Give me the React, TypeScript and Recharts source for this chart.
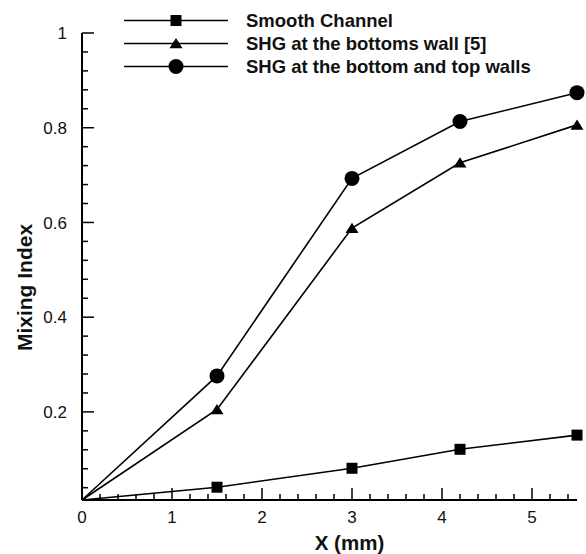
import React from 'react';
import { LineChart, Line, XAxis, YAxis, Legend } from 'recharts';

// ---- data ----
const xPositions = [0, 1.5, 3, 4.2, 5.5];
const smoothChannel = [0.014, 0.041, 0.081, 0.121, 0.151];
const shgBottomWall = [0.014, 0.205, 0.588, 0.726, 0.806];
const shgBottomTopWalls = [0.014, 0.276, 0.693, 0.813, 0.874];
const seriesNames = [
  'Smooth Channel',
  'SHG at the bottoms wall [5]',
  'SHG at the bottom and top walls',
];

// ---- ticks ----
const xTicks = [0, 0.2, 0.4, 0.6, 0.8, 1, 1.2, 1.4, 1.6, 1.8, 2, 2.2, 2.4, 2.6, 2.8, 3, 3.2, 3.4, 3.6, 3.8, 4, 4.2, 4.4, 4.6, 4.8, 5, 5.2, 5.4];
const xTickLabels = [0, 1, 2, 3, 4, 5];
const yTicks = [0.04, 0.08, 0.12, 0.16, 0.2, 0.24, 0.28, 0.32, 0.36, 0.4, 0.44, 0.48, 0.52, 0.56, 0.6, 0.64, 0.68, 0.72, 0.76, 0.8, 0.84, 0.88, 0.92, 0.96, 1];
const yTickLabels = [0.2, 0.4, 0.6, 0.8, 1];

const data = xPositions.map((x, i) => ({
  x,
  smooth: smoothChannel[i],
  bottom: shgBottomWall[i],
  both: shgBottomTopWalls[i],
}));

const FONT = '"Liberation Sans", Arial, Helvetica, sans-serif';

function Marker({ shape, cx, cy }: { shape: string; cx: number; cy: number }) {
  if (shape === 'square') {
    return <rect x={cx - 5.5} y={cy - 5.5} width={11} height={11} fill="#000" />;
  }
  if (shape === 'triangle') {
    return <polygon points={`${cx},${cy - 5.5} ${cx + 6.5},${cy + 4.8} ${cx - 6.5},${cy + 4.8}`} fill="#000" />;
  }
  return <circle cx={cx} cy={cy} r={7.5} fill="#000" />;
}

const isLabel = (v: number, list: number[]) => list.some((l) => Math.abs(l - v) < 1e-6);

const XTick = (props: any) => {
  const { x, y, payload } = props;
  const major = isLabel(payload.value, xTickLabels);
  return (
    <g>
      <line x1={x} x2={x} y1={y} y2={y - (major ? 12 : 6)} stroke="#000" strokeWidth={1.5} />
      {major && (
        <text x={x} y={y + 23} textAnchor="middle" fontFamily={FONT} fontSize={17} fill="#111">
          {String(payload.value)}
        </text>
      )}
    </g>
  );
};

const YTick = (props: any) => {
  const { x, y, payload } = props;
  const major = isLabel(payload.value, yTickLabels);
  return (
    <g>
      <line x1={x} x2={x + (major ? 12 : 6)} y1={y} y2={y} stroke="#000" strokeWidth={1.5} />
      {major && (
        <text x={x - 15} y={y} dy="0.36em" textAnchor="end" fontFamily={FONT} fontSize={17} fill="#111">
          {String(payload.value)}
        </text>
      )}
    </g>
  );
};

const renderLegend = (props: any) => {
  const payload = [...(props.payload || [])].sort(
    (a: any, b: any) => seriesNames.indexOf(a.value) - seriesNames.indexOf(b.value)
  );
  return (
    <svg width={586} height={80} style={{ display: 'block' }}>
      {payload.map((entry: any, i: number) => {
        const cy = 20.5 + i * 23;
        return (
          <g key={entry.value}>
            <line x1={124} x2={228} y1={cy} y2={cy} stroke="#000" strokeWidth={1.6} />
            <Marker shape={entry.type} cx={176} cy={cy} />
            <text x={246} y={cy} dy="0.36em" fontFamily={FONT} fontWeight="bold" fontSize={18.5} fill="#111">
              {entry.value}
            </text>
          </g>
        );
      })}
    </svg>
  );
};

// The origin point starts each curve but carries no marker in the reference.
const makeDot = (shape: string) => (p: any) =>
  p.index === 0 ? (
    <g key={`${shape}-${p.index}`} />
  ) : (
    <Marker key={`${shape}-${p.index}`} shape={shape} cx={p.cx} cy={p.cy} />
  );

export default function App() {
  return (
    <div style={{ position: 'absolute', left: 0, top: 0, background: '#fff' }}>
      <LineChart width={586} height={554} data={data} margin={{ top: 33, right: 9, left: 0, bottom: 0 }}>
        <XAxis
          dataKey="x"
          type="number"
          domain={[0, 5.5]}
          ticks={xTicks}
          interval={0}
          height={54}
          tickSize={0}
          tickMargin={0}
          tickLine={false}
          axisLine={{ stroke: '#000', strokeWidth: 2 }}
          tick={<XTick />}
          label={{
            value: 'X (mm)',
            content: (lp: any) => {
              const vb = lp.viewBox;
              return (
                <text x={vb.x + vb.width / 2 + 20} y={vb.y + 50} textAnchor="middle" fontFamily={FONT} fontWeight="bold" fontSize={20.5} fill="#111">
                  X (mm)
                </text>
              );
            },
          }}
        />
        <YAxis
          type="number"
          domain={[0.014, 1]}
          ticks={yTicks}
          interval={0}
          width={82}
          tickSize={0}
          tickMargin={0}
          tickLine={false}
          axisLine={{ stroke: '#000', strokeWidth: 2 }}
          tick={<YTick />}
          label={{
            value: 'Mixing Index',
            content: (lp: any) => {
              const vb = lp.viewBox;
              const cx = 32;
              const cy = vb.y + vb.height / 2 + 21;
              return (
                <text x={cx} y={cy} transform={`rotate(-90 ${cx} ${cy})`} textAnchor="middle" fontFamily={FONT} fontWeight="bold" fontSize={21} fill="#111">
                  Mixing Index
                </text>
              );
            },
          }}
        />
        <Legend
          layout="vertical"
          align="center"
          verticalAlign="middle"
          content={renderLegend}
          wrapperStyle={{ left: 0, top: 0, width: 586, height: 80 }}
        />
        <Line
          name={seriesNames[0]}
          dataKey="smooth"
          type="linear"
          stroke="#000"
          strokeWidth={1.6}
          legendType="square"
          dot={makeDot('square')}
          isAnimationActive={false}
        />
        <Line
          name={seriesNames[1]}
          dataKey="bottom"
          type="linear"
          stroke="#000"
          strokeWidth={1.6}
          legendType="triangle"
          dot={makeDot('triangle')}
          isAnimationActive={false}
        />
        <Line
          name={seriesNames[2]}
          dataKey="both"
          type="linear"
          stroke="#000"
          strokeWidth={1.6}
          legendType="circle"
          dot={makeDot('circle')}
          isAnimationActive={false}
        />
      </LineChart>
    </div>
  );
}
